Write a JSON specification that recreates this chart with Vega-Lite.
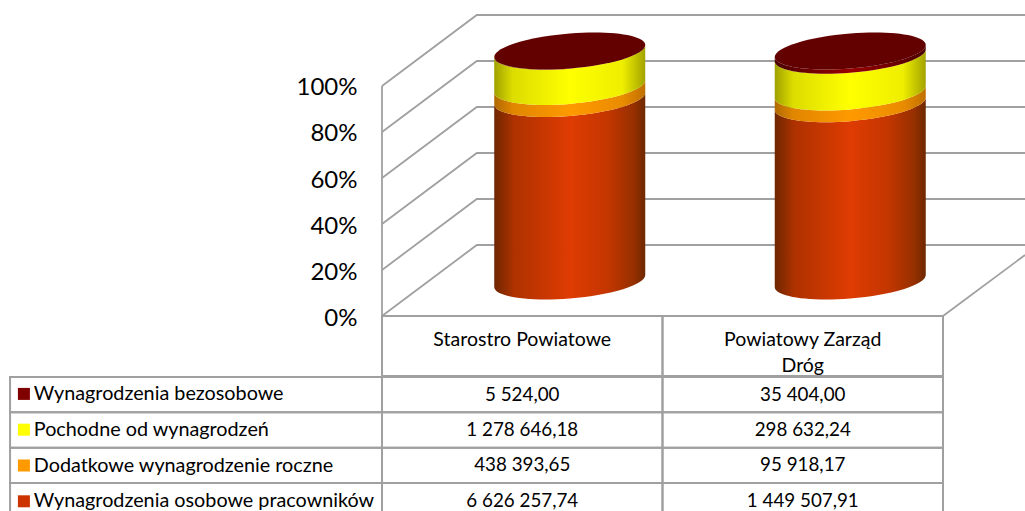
{
"$schema":"https://vega.github.io/schema/vega-lite/v6.json",
"width":1025,"height":511,"autosize":{"type":"none"},"padding":0,
"background":"white",
"config":{"view":{"stroke":null},"font":"Lato"},
"datasets":{
"costs":[
{"series":"Wynagrodzenia osobowe pracowników","ord":1,"cat":"Starostro Powiatowe","col":0,"value":6626257.74,"label":"6 626 257,74"},
{"series":"Dodatkowe wynagrodzenie roczne","ord":2,"cat":"Starostro Powiatowe","col":0,"value":438393.65,"label":"438 393,65"},
{"series":"Pochodne od wynagrodzeń","ord":3,"cat":"Starostro Powiatowe","col":0,"value":1278646.18,"label":"1 278 646,18"},
{"series":"Wynagrodzenia bezosobowe","ord":4,"cat":"Starostro Powiatowe","col":0,"value":5524.00,"label":"5 524,00"},
{"series":"Wynagrodzenia osobowe pracowników","ord":1,"cat":"Powiatowy Zarząd Dróg","col":1,"value":1449507.91,"label":"1 449 507,91"},
{"series":"Dodatkowe wynagrodzenie roczne","ord":2,"cat":"Powiatowy Zarząd Dróg","col":1,"value":95918.17,"label":"95 918,17"},
{"series":"Pochodne od wynagrodzeń","ord":3,"cat":"Powiatowy Zarząd Dróg","col":1,"value":298632.24,"label":"298 632,24"},
{"series":"Wynagrodzenia bezosobowe","ord":4,"cat":"Powiatowy Zarząd Dróg","col":1,"value":35404.00,"label":"35 404,00"}
],
"header":[
{"col":0,"name":"Starostro Powiatowe"},
{"col":1,"name":"Powiatowy Zarząd\nDróg"}
],
"walls":[
{"line":"g0","a":0,"b":0},{"line":"g0","a":0.338,"b":0.3087},{"line":"g0","a":2.2923,"b":0.3087},
{"line":"g20","a":0,"b":0.2},{"line":"g20","a":0.338,"b":0.5087},{"line":"g20","a":2.2923,"b":0.5087},
{"line":"g40","a":0,"b":0.4},{"line":"g40","a":0.338,"b":0.7087},{"line":"g40","a":2.2923,"b":0.7087},
{"line":"g60","a":0,"b":0.6},{"line":"g60","a":0.338,"b":0.9087},{"line":"g60","a":2.2923,"b":0.9087},
{"line":"g80","a":0,"b":0.8},{"line":"g80","a":0.338,"b":1.1087},{"line":"g80","a":2.2923,"b":1.1087},
{"line":"g100","a":0,"b":1},{"line":"g100","a":0.338,"b":1.3087},{"line":"g100","a":2.2923,"b":1.3087},
{"line":"side","a":0,"b":0},{"line":"side","a":0,"b":1},
{"line":"floor","a":2,"b":0},{"line":"floor","a":2.2923,"b":0.265}
]
},
"resolve":{"scale":{"y":"independent"}},
"layer":[
{"layer":[
{"data":{"name":"walls"},
 "mark":{"type":"line","color":"#a0a0a0","strokeWidth":1.8,"clip":true},
 "encoding":{
  "x":{"field":"a","type":"quantitative","axis":null,"scale":{"domain":[-1.36185,2.29234],"range":[0,1025],"nice":false,"zero":false}},
  "y":{"field":"b","type":"quantitative","title":null,"scale":{"domain":[-0.8478,1.3739],"nice":false,"zero":false},
   "axis":{"orient":"left","offset":-357,"values":[0,0.2,0.4,0.6,0.8,1],"format":".0%","grid":false,"domain":false,"ticks":false,"labelPadding":0,"labelOffset":2,"labelFontSize":24,"labelColor":"#000000","labelFont":"Lato","title":null}},
  "detail":{"field":"line"},
  "order":{"field":"b"}
 }},
{"data":{"name":"costs"},
 "transform":[
  {"stack":"value","groupby":["cat"],"sort":[{"field":"ord","order":"ascending"}],"offset":"normalize","as":["y0","y1"]},
  {"calculate":"datum.col+0.5","as":"mid"},
  {"calculate":"(datum.y1-datum.y0)*230/75.5","as":"h"},
  {"calculate":"'M-1,0.08 C-1,0.208 -0.5523,0.2762 0,0.232 C0.5523,0.1878 1,0.048 1,-0.08 L1,'+(-0.08-datum.h)+' C1,'+(0.048-datum.h)+' 0.5523,'+(0.1878-datum.h)+' 0,'+(0.232-datum.h)+' C-0.5523,'+(0.2762-datum.h)+' -1,'+(0.208-datum.h)+' -1,'+(0.08-datum.h)+' Z'","as":"body"}
 ],
 "encoding":{
  "x":{"field":"mid","type":"quantitative","axis":null,"scale":{"domain":[-1.36185,2.29234],"range":[0,1025],"nice":false,"zero":false}},
  "y":{"field":"y0","type":"quantitative","title":null,"scale":{"domain":[-0.8478,1.3739],"nice":false,"zero":false}},
  "shape":{"field":"body","type":"nominal","scale":null,"legend":null}
 },
 "layer":[
  {"transform":[{"filter":"datum.ord==1"}],
   "mark":{"type":"point","filled":true,"opacity":1,"size":22801,"xOffset":47.5,"yOffset":-35,
    "fill":{"gradient":"linear","x1":0,"x2":1,"y1":0,"y2":0,"stops":[{"offset":0,"color":"#6e2600"},{"offset":0.13,"color":"#ae3200"},{"offset":0.3,"color":"#c43600"},{"offset":0.5,"color":"#df3c02"},{"offset":0.75,"color":"#c43600"},{"offset":0.92,"color":"#973000"},{"offset":1,"color":"#6e2800"}]}}},
  {"transform":[{"filter":"datum.ord==2"}],
   "mark":{"type":"point","filled":true,"opacity":1,"size":22801,"xOffset":47.5,"yOffset":-35,
    "fill":{"gradient":"linear","x1":0,"x2":1,"y1":0,"y2":0,"stops":[{"offset":0,"color":"#b06a00"},{"offset":0.12,"color":"#e08600"},{"offset":0.5,"color":"#ff9900"},{"offset":0.85,"color":"#ea8c00"},{"offset":1,"color":"#c07000"}]}}},
  {"transform":[{"filter":"datum.ord==3"}],
   "mark":{"type":"point","filled":true,"opacity":1,"size":22801,"xOffset":47.5,"yOffset":-35,
    "fill":{"gradient":"linear","x1":0,"x2":1,"y1":0,"y2":0,"stops":[{"offset":0,"color":"#a0a000"},{"offset":0.12,"color":"#dcdc00"},{"offset":0.5,"color":"#ffff00"},{"offset":0.85,"color":"#eeee00"},{"offset":1,"color":"#a3a300"}]}}},
  {"transform":[{"filter":"datum.ord==4"}],
   "mark":{"type":"point","filled":true,"opacity":1,"size":22801,"xOffset":47.5,"yOffset":-35,
    "fill":{"gradient":"linear","x1":0,"x2":1,"y1":0,"y2":0,"stops":[{"offset":0,"color":"#4a0000"},{"offset":0.5,"color":"#9a0000"},{"offset":1,"color":"#4a0000"}]}}}
 ]},
{"data":{"name":"costs"},
 "transform":[
  {"aggregate":[{"op":"min","field":"col","as":"col"}],"groupby":["cat"]},
  {"calculate":"datum.col+0.5","as":"mid"},
  {"calculate":"1","as":"lid"}
 ],
 "mark":{"type":"point","filled":true,"opacity":1,"size":22801,"xOffset":47.5,"yOffset":-35,"fill":"#630000",
  "shape":"M-1,0.08 C-1,0.208 -0.5523,0.2762 0,0.232 C0.5523,0.1878 1,0.048 1,-0.08 C1,-0.208 0.5523,-0.2762 0,-0.232 C-0.5523,-0.1878 -1,-0.048 -1,0.08 Z"},
 "encoding":{
  "x":{"field":"mid","type":"quantitative","axis":null,"scale":{"domain":[-1.36185,2.29234],"range":[0,1025],"nice":false,"zero":false}},
  "y":{"field":"lid","type":"quantitative","title":null,"scale":{"domain":[-0.8478,1.3739],"nice":false,"zero":false}}
 }},
{"data":{"name":"header"},
 "transform":[{"calculate":"datum.col+1","as":"end"}],
 "mark":{"type":"rect","filled":false,"stroke":"#a0a0a0","strokeWidth":2},
 "encoding":{
  "x":{"field":"col","type":"quantitative","axis":null,"scale":{"domain":[-1.36185,2.29234],"range":[0,1025],"nice":false,"zero":false}},
  "x2":{"field":"end"},
  "y":{"datum":0,"type":"quantitative","title":null,"scale":{"domain":[-0.8478,1.3739],"nice":false,"zero":false}},
  "y2":{"datum":-0.2609}
 }},
{"data":{"name":"header"},
 "transform":[{"calculate":"datum.col+0.5","as":"mid"}],
 "mark":{"type":"text","fontSize":19.5,"font":"Lato","baseline":"top","lineBreak":"\n","lineHeight":26,"color":"#000000","align":"center"},
 "encoding":{
  "x":{"field":"mid","type":"quantitative","axis":null,"scale":{"domain":[-1.36185,2.29234],"range":[0,1025],"nice":false,"zero":false}},
  "y":{"datum":-0.0652,"type":"quantitative","title":null,"scale":{"domain":[-0.8478,1.3739],"nice":false,"zero":false}},
  "text":{"field":"name"}
 }}
]},
{"layer":[
{"data":{"name":"costs"},
 "transform":[{"calculate":"datum.col+1","as":"end"}],
 "mark":{"type":"rect","filled":false,"stroke":"#a0a0a0","strokeWidth":2},
 "encoding":{
  "x":{"field":"col","type":"quantitative","axis":null,"scale":{"domain":[-1.36185,2.29234],"range":[0,1025],"nice":false,"zero":false}},
  "x2":{"field":"end"},
  "y":{"field":"series","type":"nominal","axis":null,"scale":{"type":"band","paddingInner":0,"paddingOuter":0,"range":[377,518.4],"domain":["Wynagrodzenia bezosobowe","Pochodne od wynagrodzeń","Dodatkowe wynagrodzenie roczne","Wynagrodzenia osobowe pracowników"]}}
 }},
{"data":{"name":"costs"},
 "transform":[{"filter":"datum.col==0"},{"calculate":"-1.326","as":"left"}],
 "mark":{"type":"rect","filled":false,"stroke":"#a0a0a0","strokeWidth":2},
 "encoding":{
  "x":{"field":"left","type":"quantitative","axis":null,"scale":{"domain":[-1.36185,2.29234],"range":[0,1025],"nice":false,"zero":false}},
  "x2":{"field":"col"},
  "y":{"field":"series","type":"nominal","axis":null}
 }},
{"data":{"name":"costs"},
 "transform":[{"calculate":"datum.col+0.5","as":"mid"}],
 "mark":{"type":"text","fontSize":18.8,"font":"Lato","color":"#000000","align":"center"},
 "encoding":{
  "x":{"field":"mid","type":"quantitative","axis":null,"scale":{"domain":[-1.36185,2.29234],"range":[0,1025],"nice":false,"zero":false}},
  "y":{"field":"series","type":"nominal","axis":null},
  "text":{"field":"label"}
 }},
{"data":{"name":"costs"},
 "mark":{"type":"point","filled":true,"size":0,"opacity":1},
 "encoding":{
  "x":{"field":"col","type":"quantitative","axis":null,"scale":{"domain":[-1.36185,2.29234],"range":[0,1025],"nice":false,"zero":false}},
  "y":{"field":"series","type":"nominal","axis":null},
  "color":{"field":"series","type":"nominal",
   "scale":{"domain":["Wynagrodzenia bezosobowe","Pochodne od wynagrodzeń","Dodatkowe wynagrodzenie roczne","Wynagrodzenia osobowe pracowników"],"range":["#800000","#ffff00","#ff9900","#cc3300"]},
   "legend":{"orient":"none","legendX":14,"legendY":384,"title":null,"symbolType":"square","symbolSize":144,"symbolStrokeWidth":0,"labelFontSize":19.8,"labelFont":"Lato","labelColor":"#000000","labelOffset":0,"rowPadding":14.8,"labelLimit":400,"padding":0}}
 }}
]}
]
}
